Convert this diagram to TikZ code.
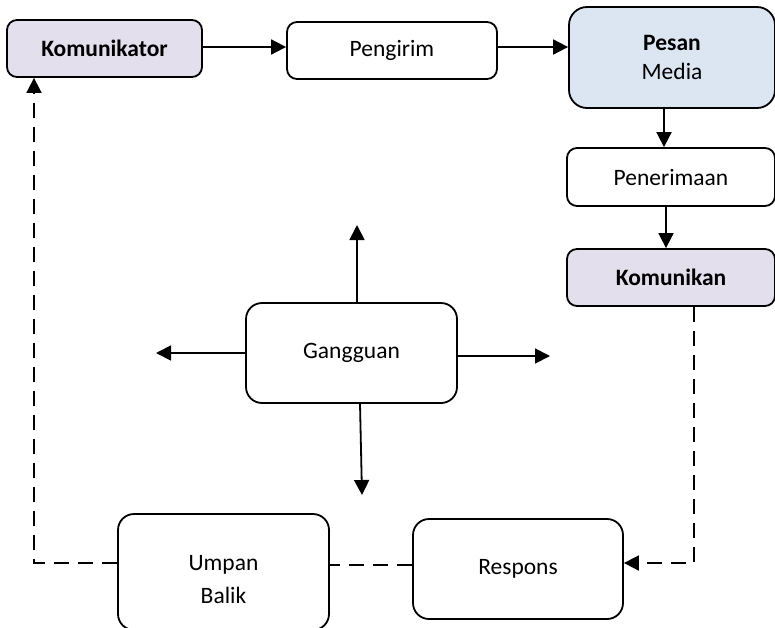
\documentclass[tikz,border=0pt]{standalone}
\usepackage{fontspec}
\setmainfont{Carlito}
\usetikzlibrary{arrows.meta,calc}

\definecolor{lilac}{HTML}{E4DFEC}
\definecolor{paleblue}{HTML}{DCE6F2}

\tikzset{
  txt/.style={inner sep=0pt, font=\fontsize{23.5}{29}\selectfont, align=center},
  box/.style={txt, draw=black, line width=1.8pt, rounded corners=10pt, fill=white},
  tip/.style={-{Triangle[length=15pt,width=15pt]}},
  arr/.style={line width=1.8pt, tip},
  dsh/.style={line width=1.8pt, dash pattern=on 15pt off 9pt},
}

\begin{document}
\begin{tikzpicture}[x=1pt, y=-1pt]
\useasboundingbox (0,0) rectangle (775,627);

% top row
\node[box, fill=lilac, minimum width=195pt, minimum height=57pt] (kom) at (104.5,48.5) {\bfseries Komunikator};
\node[box, minimum width=210pt, minimum height=57pt] (peng) at (392,50.5) {Pengirim};
\node[box, fill=paleblue, rounded corners=18pt, minimum width=206pt, minimum height=101pt] (pesan) at (672,57.5) {\bfseries Pesan\\Media};

% right column
\node[box, minimum width=208pt, minimum height=58pt] (pen) at (671,177) {Penerimaan};
\node[box, fill=lilac, minimum width=208pt, minimum height=57pt] (kmk) at (671,277.5) {\bfseries Komunikan};

% noise
\node[box, rounded corners=16pt, minimum width=211pt, minimum height=100pt] (gang) at (351.5,353) {Gangguan};

% bottom row
\node[box, rounded corners=16pt, minimum width=210pt, minimum height=100pt] (resp) at (518,569) {Respons};
\node[box, rounded corners=16pt, minimum width=211pt, minimum height=116pt] (umpan) at (223.5,572) {};
\node[txt] (umpantxt) at (223.5,580) {Umpan\\[4pt]Balik};

% free ends of the noise arrows
\coordinate (gup) at (357,225);
\coordinate (gleft) at (156,353);
\coordinate (gright) at (550,356);
\coordinate (gdown) at (362,495);

% main flow
\draw[arr] ([yshift=1.5pt]kom.east) -- ([yshift=1.5pt]kom.east -| peng.west);
\draw[arr] ([yshift=3.5pt]peng.east) -- ([yshift=3.5pt]peng.east -| pesan.west);
\draw[arr] ([xshift=-8pt]pesan.south) -- ([xshift=-8pt]pesan.south |- pen.north);
\draw[arr] ([xshift=-5pt]pen.south) -- ([xshift=-5pt]pen.south |- kmk.north);

% noise spreading out
\draw[arr] (gang.north -| gup) -- (gup);
\draw[arr] (gang.west) -- (gleft);
\draw[arr] (gang.east |- gright) -- (gright);
\draw[arr] ([xshift=8.5pt]gang.south) -- (gdown);

% feedback loop
\draw[dsh, tip] ([xshift=23pt]kmk.south) |- ([yshift=6pt]resp.east);
\draw[dsh] ([yshift=4pt]resp.west) -- ([yshift=4pt]resp.west -| umpan.east);
\draw[dsh, tip] ([yshift=9pt]umpan.west) -| ([xshift=-70.5pt]kom.south);

\end{tikzpicture}
\end{document}
